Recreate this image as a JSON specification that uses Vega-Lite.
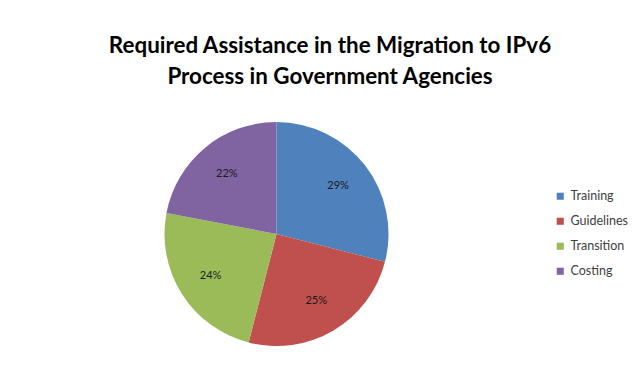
{
  "$schema": "https://vega.github.io/schema/vega-lite/v6.json",
  "width": 637,
  "height": 376,
  "autosize": {"type": "fit", "contains": "padding"},
  "padding": {"left": 7, "top": 34, "right": 8, "bottom": 6},
  "background": "#ffffff",
  "title": {
    "text": ["Required Assistance in the Migration to IPv6", "Process in Government Agencies"],
    "font": "Lato",
    "fontSize": 22.4,
    "fontWeight": "bold",
    "color": "#000000",
    "lineHeight": 31,
    "anchor": "middle",
    "frame": "bounds",
    "dx": 12,
    "offset": 10
  },
  "data": {
    "values": [
      {"category": "Training", "value": 29, "label": "29%", "order": 1},
      {"category": "Guidelines", "value": 25, "label": "25%", "order": 2},
      {"category": "Transition", "value": 24, "label": "24%", "order": 3},
      {"category": "Costing", "value": 22, "label": "22%", "order": 4}
    ]
  },
  "encoding": {
    "theta": {"field": "value", "type": "quantitative", "stack": true},
    "order": {"field": "order", "type": "quantitative"},
    "color": {
      "field": "category",
      "type": "nominal",
      "sort": null,
      "scale": {
        "domain": ["Training", "Guidelines", "Transition", "Costing"],
        "range": ["#4F81BD", "#C0504D", "#9BBB59", "#8064A2"]
      },
      "legend": {
        "title": null,
        "orient": "right",
        "symbolType": "square",
        "symbolSize": 50,
        "symbolStrokeWidth": 0,
        "labelFont": "Lato",
        "labelFontSize": 12.5,
        "labelColor": "#404040",
        "rowPadding": 12,
        "offset": 8
      }
    }
  },
  "layer": [
    {"mark": {"type": "arc", "outerRadius": 112}},
    {
      "mark": {"type": "text", "radius": 78, "font": "Lato", "fontSize": 11, "color": "#1a1a1a"},
      "encoding": {"text": {"field": "label"}, "color": {"value": "#1a1a1a"}}
    }
  ],
  "config": {
    "view": {"stroke": null},
    "legend": {"layout": {"right": {"anchor": "middle"}}}
  }
}
